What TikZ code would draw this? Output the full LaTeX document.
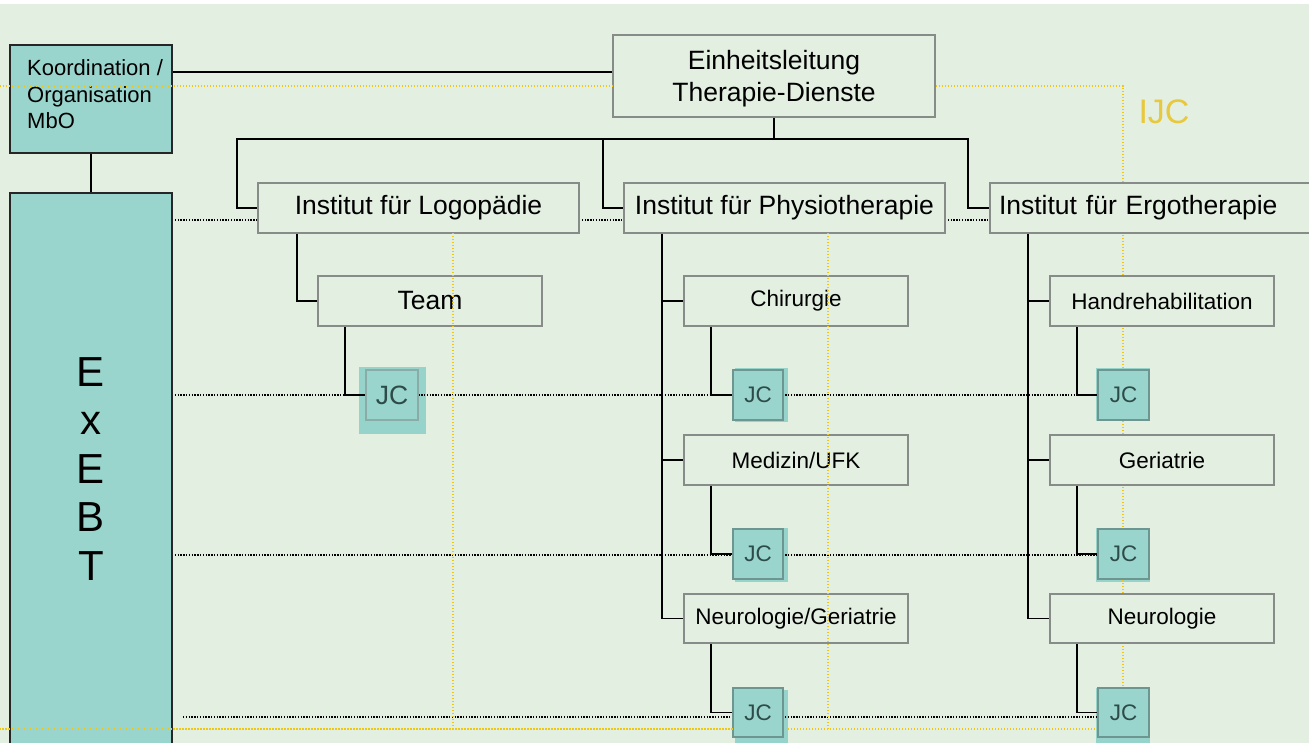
\documentclass[tikz,border=0pt]{standalone}
\usepackage{fontspec}
\setmainfont{Liberation Sans}
\pgfdeclarelayer{back}
\pgfdeclarelayer{shad}
\pgfdeclarelayer{bg}
\pgfsetlayers{back,shad,bg,main}
\definecolor{bgc}{RGB}{227,239,225}
\definecolor{teal1}{RGB}{154,213,205}
\definecolor{teal2}{RGB}{150,211,202}
\definecolor{boxline}{RGB}{135,140,137}
\definecolor{ylw}{RGB}{240,200,20}
\definecolor{ijc}{RGB}{232,200,60}
\definecolor{jctext}{RGB}{45,75,72}
\definecolor{jcline}{RGB}{110,150,145}
\tikzset{
 wbox/.style={draw=boxline, line width=1.3pt, fill=bgc, inner sep=0pt, outer sep=0pt, minimum height=50pt, text=black},
 subbox/.style={wbox, minimum width=224pt, font=\fontsize{22.5}{27}\selectfont},
 instbox/.style={wbox, minimum width=321pt, font=\fontsize{26.5}{32}\selectfont},
 tbox/.style={draw=black!85, line width=1.5pt, fill=teal1, inner sep=0pt, outer sep=0pt},
 jcbox/.style={draw=jcline, line width=1.2pt, fill=teal1, inner sep=0pt, outer sep=0pt, minimum width=50pt, minimum height=50pt, text=jctext, font=\fontsize{22.5}{27}\selectfont},
 jcshadow/.style={fill=teal2, inner sep=0pt, outer sep=0pt},
 conn/.style={draw=black, line width=1.3pt},
 dline/.style={draw=black, line width=1.2pt, dash pattern=on 1.4pt off 1.4pt},
 yline/.style={draw=ylw, line width=1.2pt, dash pattern=on 1.4pt off 1.6pt},
}
\begin{document}
\begin{tikzpicture}[x=1pt,y=-1pt]
\useasboundingbox (0,0) rectangle (1309,743);
\clip (0,0) rectangle (1309,743);
\begin{pgfonlayer}{back}
\fill[white] (0,0) rectangle (1309,743);
\fill[bgc] (0,4) rectangle (1309,743);
\end{pgfonlayer}

% left teal boxes
\node[tbox, minimum width=162pt, minimum height=108pt] (koord) at (91,99) {};
\node[anchor=west, align=left, inner sep=0pt, font=\fontsize{22}{26.5}\selectfont] (koordtxt) at (27,94.5) {Koordination /\\Organisation\\MbO};
\node[tbox, minimum width=162pt, minimum height=567pt] (exebt) at (91,476.5) {};
\node[align=center, inner sep=0pt, font=\fontsize{42}{48.5}\selectfont] (exebttxt) at (91,469) {E\\x\\E\\B\\T};

% top
\node[wbox, minimum width=322pt, minimum height=82pt] (einh) at (774,76) {};
\node[align=center, inner sep=0pt, font=\fontsize{26.5}{32}\selectfont] (einhtxt) at (774,79) {Einheitsleitung\\Therapie-Dienste};
\node[text=ijc, inner sep=0pt, font=\fontsize{34}{40}\selectfont] (ijc) at (1164,112) {IJC};

% institutes
\node[instbox] (logo) at (418.5,208) {Institut für Logopädie};
\node[instbox] (physio) at (784.5,208) {Institut für Physiotherapie};
\node[instbox, text width=321pt, align=left, inner xsep=9pt] (ergo) at (1159.5,208) {Institut für Ergotherapie};

% sub boxes
\node[subbox, font=\fontsize{26.5}{32}\selectfont] (team) at (430,301) {Team};
\node[subbox] (chir) at (796,301) {Chirurgie};
\node[subbox] (med) at (796,460) {Medizin/UFK};
\node[subbox, minimum height=49pt] (neurog) at (796,618.5) {Neurologie/Geriatrie};
\node[subbox] (hand) at (1162,301) {Handrehabilitation};
\node[subbox] (ger) at (1162,460) {Geriatrie};
\node[subbox, minimum height=49pt] (neuro) at (1162,618.5) {Neurologie};

% JC shadows
\begin{pgfonlayer}{shad}
\node[jcshadow, minimum width=67pt, minimum height=67pt] (jcteams) at (392.5,400.5) {};
\node[jcshadow, minimum width=53pt, minimum height=54pt] (jcchirs) at (761.5,395) {};
\node[jcshadow, minimum width=53pt, minimum height=54pt] (jcmeds) at (761.5,555) {};
\node[jcshadow, minimum width=53pt, minimum height=60pt] (jcngs) at (761.5,720) {};
\node[jcshadow, minimum width=54pt, minimum height=53pt] (jchands) at (1123,394.5) {};
\node[jcshadow, minimum width=54pt, minimum height=54pt] (jcgers) at (1123,555) {};
\node[jcshadow, minimum width=54pt, minimum height=62pt] (jcneuros) at (1123,719) {};
\end{pgfonlayer}

% JC boxes
\node[jcbox, draw=jcline!80, minimum width=52pt, font=\fontsize{26.5}{32}\selectfont] (jcteam) at (392,395) {JC};
\node[jcbox] (jcchir) at (758,395) {JC};
\node[jcbox] (jcmed) at (758,554) {JC};
\node[jcbox, minimum height=49pt] (jcng) at (758,712.5) {JC};
\node[jcbox, minimum width=51pt] (jchand) at (1123.5,395) {JC};
\node[jcbox, minimum width=51pt] (jcger) at (1123.5,554) {JC};
\node[jcbox, minimum width=51pt, minimum height=49pt] (jcneuro) at (1123.5,712.5) {JC};

\coordinate (d3s) at (183,717);

\begin{pgfonlayer}{bg}
% yellow lines under boxes
\draw[yline] (0,86) -- (1123,86) -- (1123,729) -- (0,729);
% dotted black lines
\draw[dline] (exebt.east |- 0,220) -- (logo.west |- 0,220);
\draw[dline] (logo.east |- 0,220) -- (physio.west |- 0,220);
\draw[dline] (physio.east |- 0,220) -- (ergo.west |- 0,220);
\draw[dline] (exebt.east |- 0,395) -- (jchand.west);
\draw[dline] (exebt.east |- 0,555) -- (jcger.west |- 0,555);
\draw[dline] (d3s) -- (jcneuro.west |- 0,717);
% solid connectors
\draw[conn] (koord.east |- 0,72) -- (einh.west |- 0,72);
\draw[conn] (koord.south) -- (exebt.north);
\draw[conn] (einh.south) -- (einh.south |- 0,139);
\draw[conn] (logo.west) -| (237,139) -- (968,139) |- (ergo.west);
\draw[conn] (603,139) |- (physio.west);
\draw[conn] (logo.south -| 297,0) |- (team.west);
\draw[conn] (team.south -| 345,0) |- (jcteam.west);
\draw[conn] (physio.south -| 662,0) |- (neurog.west);
\draw[conn] (chir.west) -- (chir.west -| 662,0);
\draw[conn] (med.west) -- (med.west -| 662,0);
\draw[conn] (chir.south -| 711,0) |- (jcchir.west);
\draw[conn] (med.south -| 711,0) |- (jcmed.west);
\draw[conn] (neurog.south -| 711,0) |- (jcng.west);
\draw[conn] (ergo.south -| 1028,0) |- (neuro.west);
\draw[conn] (hand.west) -- (hand.west -| 1028,0);
\draw[conn] (ger.west) -- (ger.west -| 1028,0);
\draw[conn] (hand.south -| 1077,0) |- (jchand.west);
\draw[conn] (ger.south -| 1077,0) |- (jcger.west);
\draw[conn] (neuro.south -| 1077,0) |- (jcneuro.west);
\end{pgfonlayer}

% yellow lines on top
\draw[yline] (0,86) -- (einh.west |- 0,86);
\draw[yline] (0,729) -- (jcng.west |- 0,729);
\draw[yline] (logo.south -| 453,0) -- (453,729);
\draw[yline] (physio.south -| 828,0) -- (828,729);
\end{tikzpicture}
\end{document}
